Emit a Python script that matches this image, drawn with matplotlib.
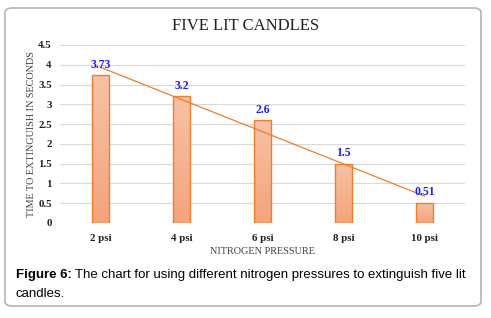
import numpy as np
import matplotlib.pyplot as plt
from matplotlib.patches import FancyBboxPatch
from matplotlib.colors import LinearSegmentedColormap

# Data
pressures = ["2 psi", "4 psi", "6 psi", "8 psi", "10 psi"]
times = [3.73, 3.2, 2.6, 1.5, 0.51]
y_ticks = [0, 0.5, 1, 1.5, 2, 2.5, 3, 3.5, 4, 4.5]

SERIF = "Liberation Serif"
SANS = "Liberation Sans"

fig = plt.figure(figsize=(4.91, 3.18), dpi=100)

# rounded frame around the figure
frame = FancyBboxPatch((5 / 491, 12 / 318), 476 / 491, 298 / 318,
                       boxstyle="round,pad=0,rounding_size=0.015",
                       transform=fig.transFigure, facecolor="none",
                       edgecolor="#b5b5b5", linewidth=1.2, zorder=-1)
fig.patches.append(frame)

ax = fig.add_axes([60 / 491, 1 - 223 / 318, 405 / 491, 178 / 318])
ax.set_facecolor("none")

x = np.arange(len(pressures))
bars = ax.bar(x, times, width=0.22, facecolor="none",
              edgecolor="#ED7D31", linewidth=1.0, zorder=3)

# light-to-dark gradient inside each bar
grad = LinearSegmentedColormap.from_list("g", ["#F4A47C", "#F7C2A4"])
for b in bars:
    x0, y0 = b.get_x(), b.get_y()
    w, h = b.get_width(), b.get_height()
    im = ax.imshow(np.linspace(0, 1, 100).reshape(-1, 1), cmap=grad,
                   origin="lower", aspect="auto",
                   extent=[x0, x0 + w, y0, y0 + h], zorder=2)
    im.set_clip_path(b)

# linear trend line
coef = np.polyfit(x + 1, times, 1)
ax.plot(x, np.polyval(coef, x + 1), color="#ED7D31", linewidth=0.9, zorder=4)

for xi, v in zip(x, times):
    ax.text(xi, v + 0.11, f"{v:g}", ha="center", va="bottom", color="#1a1aff",
            fontsize=8.5, fontweight="bold", family=SERIF, zorder=5)

ax.set_xlim(-0.5, 4.5)
ax.set_ylim(0, 4.5)
ax.set_yticks(y_ticks)
ax.set_yticklabels([f"{t:g}" for t in y_ticks])
ax.set_xticks(x)
ax.set_xticklabels(pressures)
for lab in ax.get_xticklabels() + ax.get_yticklabels():
    lab.set_family(SERIF)
    lab.set_fontweight("bold")
    lab.set_fontsize(7.8)
    lab.set_color("#202020")
ax.tick_params(length=0)
ax.tick_params(axis="x", pad=8)
ax.tick_params(axis="y", pad=6)
ax.grid(axis="y", color="#d9d9d9", linewidth=0.8, zorder=0)
ax.set_axisbelow(True)
for s in ax.spines.values():
    s.set_visible(False)

ax.set_ylabel("TIME TO EXTINGUISH IN SECONDS", family=SERIF, fontsize=7.3,
              color="#404040", labelpad=1.5)
ax.set_xlabel("NITROGEN PRESSURE", family=SERIF, fontsize=7.4,
              color="#404040", labelpad=3)

fig.text(0.5, 1 - 26 / 318, "FIVE LIT CANDLES", ha="center", va="center",
         family=SERIF, fontsize=12, color="#202020")

fig.text(16 / 491, 1 - 275 / 318, "Figure 6:", ha="left", va="center",
         family=SANS, fontsize=9.5, fontweight="bold", color="black")
fig.text(75 / 491, 1 - 275 / 318,
         "The chart for using different nitrogen pressures to extinguish five lit",
         ha="left", va="center", family=SANS, fontsize=9.5, color="black")
fig.text(16 / 491, 1 - 294 / 318, "candles.", ha="left", va="center",
         family=SANS, fontsize=9.5, color="black")

fig.savefig("out.png", dpi=100)
